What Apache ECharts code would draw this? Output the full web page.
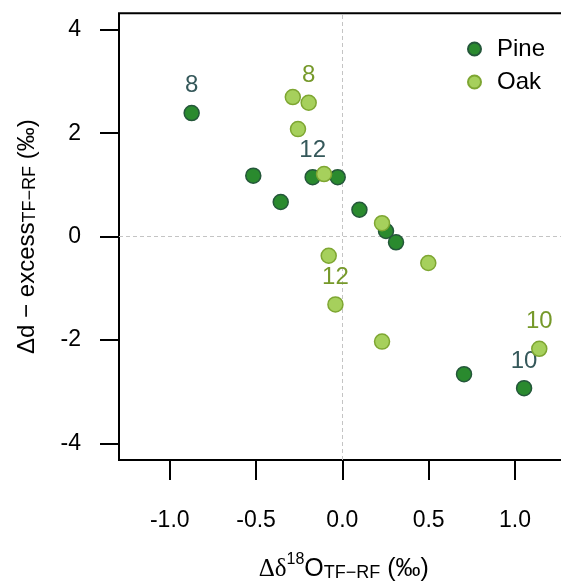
<!DOCTYPE html>
<html>
<head>
<meta charset="utf-8">
<script src="https://cdn.jsdelivr.net/npm/echarts@6/dist/echarts.min.js"></script>
<style>html,body{margin:0;padding:0;background:#fff}#c{width:561px;height:582px}</style>
</head>
<body>
<div id="c"></div>
<script>
// Data
const pineX = [-0.873, -0.516, -0.357, -0.172, -0.027, 0.099, 0.253, 0.311, 0.705, 1.053];
const pineY = [2.39, 1.18, 0.67, 1.15, 1.15, 0.52, 0.11, -0.11, -2.66, -2.93];
const pineLab = ['8', '', '', '12', '', '', '', '', '', '10'];
const oakX = [-0.287, -0.195, -0.257, -0.106, 0.230, -0.079, -0.040, 0.498, 0.230, 1.141];
const oakY = [2.70, 2.59, 2.08, 1.21, 0.26, -0.37, -1.31, -0.51, -2.03, -2.17];
const oakLab = ['', '8', '', '', '', '', '12', '', '', '10'];
const xTicks = [-1.0, -0.5, 0.0, 0.5, 1.0];
const yTicks = [-4, -2, 0, 2, 4];
const seriesNames = ['Pine', 'Oak'];

const FONT = '"Liberation Sans", Arial, sans-serif';

function mk(xs, ys, labs, labColor) {
  return xs.map((x, i) => {
    const d = { value: [x, ys[i]] };
    if (labs[i]) {
      d.label = { show: true, formatter: labs[i], position: 'top', distance: 7,
        color: labColor, fontSize: 24, fontFamily: FONT };
    }
    return d;
  });
}

const chart = echarts.init(document.getElementById('c'), null, { renderer: 'canvas' });
chart.setOption({
  animation: false,
  backgroundColor: '#fff',
  grid: {
    left: 119, top: 13.3, width: 499.5, height: 446.7,
    outerBoundsMode: 'none', containLabel: false,
    show: true, borderColor: '#000', borderWidth: 2, backgroundColor: 'transparent'
  },
  legend: {
    orient: 'vertical', left: 462, top: 32, itemGap: 9,
    icon: 'circle', itemWidth: 13, itemHeight: 13,
    textStyle: { fontSize: 24, fontFamily: FONT, color: '#000', padding: [0, 0, 0, 11] },
    data: seriesNames
  },
  xAxis: {
    type: 'value', min: -1.294, max: 1.6,
    axisLine: { show: false, onZero: false },
    splitLine: { show: false },
    axisTick: { show: true, length: 20, lineStyle: { color: '#000', width: 2 }, customValues: xTicks },
    axisLabel: { customValues: xTicks, formatter: v => v.toFixed(1), fontSize: 23, fontFamily: FONT, color: '#000', margin: 49 },
    name: '{d|Δδ}{sup|18}{m|O}{sub|TF−RF}{m| (‰)}',
    nameLocation: 'middle', nameGap: 92,
    nameTextStyle: {
      padding: [0, 50, 0, 0],
      rich: {
        d: { fontSize: 25, fontFamily: '"Liberation Serif", serif', color: '#000', lineHeight: 30, verticalAlign: 'bottom' },
        sup: { fontSize: 16, fontFamily: FONT, color: '#000', lineHeight: 16, verticalAlign: 'top' },
        m: { fontSize: 25, fontFamily: FONT, color: '#000', lineHeight: 30, verticalAlign: 'bottom' },
        sub: { fontSize: 18, fontFamily: FONT, color: '#000', lineHeight: 18, verticalAlign: 'bottom' }
      }
    }
  },
  yAxis: {
    type: 'value', min: -4.32, max: 4.32,
    axisLine: { show: false, onZero: false },
    splitLine: { show: false },
    axisTick: { show: true, length: 19, lineStyle: { color: '#000', width: 2 }, customValues: yTicks },
    axisLabel: { customValues: yTicks, formatter: v => String(v), fontSize: 23, fontFamily: FONT, color: '#000', margin: 38 },
    name: '{m|Δd − excess}{sub|TF−RF}{m| (‰)}',
    nameLocation: 'middle', nameGap: 80, nameRotate: 90,
    nameTextStyle: {
      rich: {
        m: { fontSize: 24, fontFamily: FONT, color: '#000', lineHeight: 30, verticalAlign: 'bottom' },
        sub: { fontSize: 18, fontFamily: FONT, color: '#000', lineHeight: 18, verticalAlign: 'bottom' }
      }
    }
  },
  series: [
    {
      name: 'Pine', type: 'scatter', symbol: 'circle', symbolSize: 15, z: 3,
      itemStyle: { color: '#2a8a2e', borderColor: '#24573a', borderWidth: 1.5, opacity: 1 },
      data: mk(pineX, pineY, pineLab, '#35585a'),
      markLine: {
        silent: true, symbol: ['none', 'none'], label: { show: false },
        lineStyle: { type: [4, 3], color: '#c4c4c4', width: 1 },
        data: [{ xAxis: 0 }, { yAxis: 0 }], z: 1
      }
    },
    {
      name: 'Oak', type: 'scatter', symbol: 'circle', symbolSize: 15, z: 4,
      itemStyle: { color: '#a6d05c', borderColor: '#7ea632', borderWidth: 1.5, opacity: 1 },
      data: mk(oakX, oakY, oakLab, '#76992a')
    }
  ]
});
</script>
</body>
</html>
